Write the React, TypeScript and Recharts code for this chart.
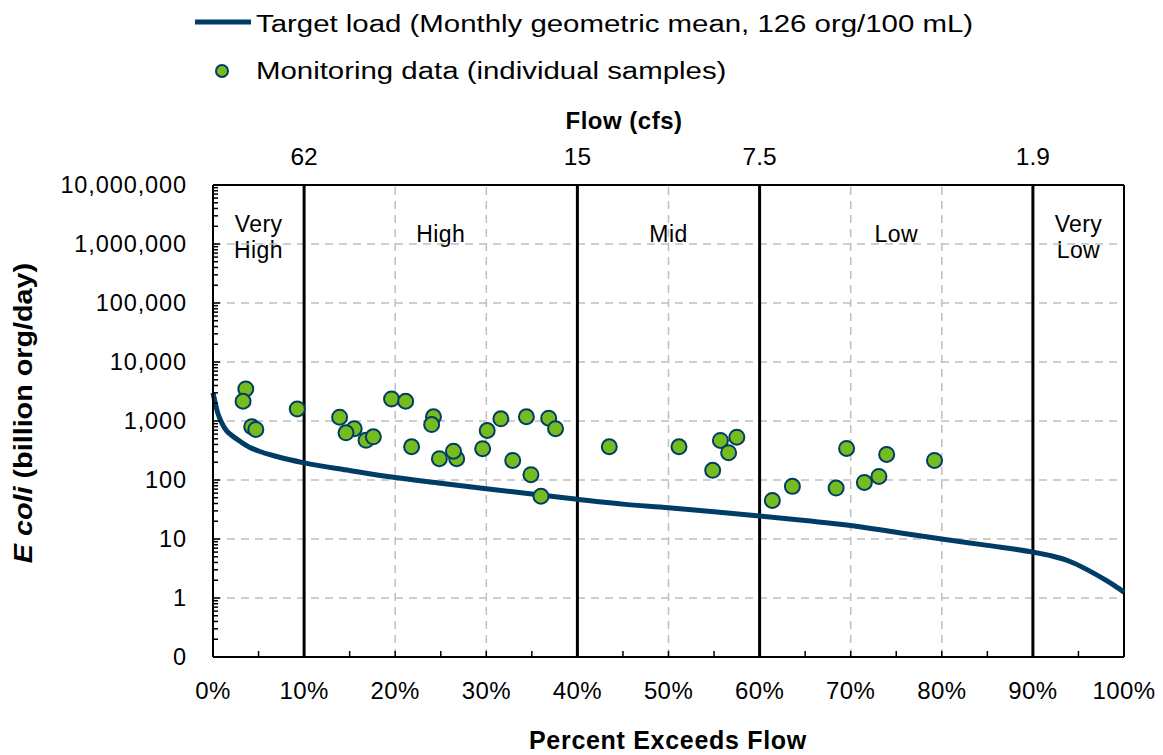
import React from "react";
import {
  ComposedChart, Line, Scatter, XAxis, YAxis, ReferenceLine, ReferenceArea
} from "recharts";

// Load duration curve (percent of days flow is exceeded vs. load)
const curvePct = [0, 0.5, 1, 1.5, 2, 3, 4, 5, 7, 10, 15, 20, 25, 30, 35, 40, 45, 50, 55, 60, 65, 70, 75, 80, 85, 90, 92, 94, 96, 98, 99, 100];
const curveLoad = [3000, 1400, 900, 680, 580, 450, 360, 310, 250, 195, 145, 110, 88, 71, 58, 47, 39, 34, 29, 24.5, 20.5, 17, 13, 10, 7.8, 6, 5.2, 4.2, 3, 2, 1.6, 1.25];

// Individual monitoring samples
const samplePct = [
  3.6, 3.3, 4.25, 4.7, 9.25, 13.9, 15.5, 14.6, 16.8, 17.6, 19.6, 21.15, 21.8, 24.2, 24.0, 24.85,
  26.75, 26.4, 29.6, 30.1, 31.6, 32.9, 34.4, 34.9, 36.0, 36.85, 37.6, 43.5, 51.15, 55.7, 57.5,
  56.6, 54.85, 61.4, 63.6, 68.4, 69.55, 71.5, 73.1, 73.95, 79.2,
];
const sampleLoad = [
  3500, 2160, 800, 720, 1600, 1160, 740, 630, 470, 540, 2370, 2160, 366, 1180, 870, 230,
  230, 308, 339, 690, 1090, 215, 1180, 123, 53, 1115, 740, 366, 366, 468, 532,
  290, 146, 45, 78, 73, 343, 91, 115, 271, 215,
];

// Flow zones and their boundaries
const zoneEdges = [10, 40, 60, 90];
const flowLabels = ["62", "15", "7.5", "1.9"];
const zones = [
  { from: 0, to: 10, text: ["Very", "High"] },
  { from: 10, to: 40, text: ["High"] },
  { from: 40, to: 60, text: ["Mid"] },
  { from: 60, to: 90, text: ["Low"] },
  { from: 90, to: 100, text: ["Very", "Low"] },
];

const yMajorTicks = [0.1, 1, 10, 100, 1000, 10000, 100000, 1000000, 10000000];
const yMinorTicks = yMajorTicks.slice(0, -1).flatMap(d => [2, 3, 4, 5, 6, 7, 8, 9].map(k => k * d));
const xTicks = [0, 5, 10, 15, 20, 25, 30, 35, 40, 45, 50, 55, 60, 65, 70, 75, 80, 85, 90, 95, 100];
const xGrid = [10, 20, 30, 40, 50, 60, 70, 80, 90];

const curveData = curvePct.map((pct, i) => ({ pct, load: curveLoad[i] }));
const sampleData = samplePct.map((pct, i) => ({ pct, load: sampleLoad[i] }));

const NAVY = "#003D66";
const GREEN = "#77BC1F";
const GRID = "#BFBFBF";
const FONT = "'Liberation Sans', Arial, sans-serif";

const YTick = (props: any) => {
  const { x, y, payload } = props;
  const major = yMajorTicks.includes(payload.value);
  const label = payload.value < 1 ? "0" : payload.value.toLocaleString("en-US");
  return (
    <g>
      <line x1={x} x2={x + (major ? 7 : 5)} y1={y} y2={y} stroke="#000" strokeWidth={1.5} />
      {major && (
        <text x={x - 26} y={y + 8} textAnchor="end" fontSize={23.5} letterSpacing={0.9} fontFamily={FONT} fill="#000">
          {label}
        </text>
      )}
    </g>
  );
};

const XTick = (props: any) => {
  const { x, y, payload } = props;
  const showLabel = payload.value % 10 === 0;
  return (
    <g>
      <line x1={x} x2={x} y1={y} y2={y - 6} stroke="#000" strokeWidth={1.5} />
      {showLabel && (
        <text x={x} y={y + 42} textAnchor="middle" fontSize={24} letterSpacing={0.4} fontFamily={FONT} fill="#000">
          {payload.value}%
        </text>
      )}
    </g>
  );
};

// flow value printed above each zone boundary
const FlowLabel = ({ viewBox, text }: any) => (
  <text x={viewBox.x} y={viewBox.y - 20} textAnchor="middle" fontSize={24.5} fontFamily={FONT} fill="#000">
    {text}
  </text>
);

const ZoneLabel = ({ viewBox, lines }: any) => {
  const cx = viewBox.x + viewBox.width / 2;
  const top = viewBox.y + (lines.length > 1 ? 47 : 57);
  return (
    <text textAnchor="middle" fontSize={23} letterSpacing={0.4} fontFamily={FONT} fill="#000">
      {lines.map((t: string, i: number) => (
        <tspan key={t} x={cx} y={top + i * 26}>{t}</tspan>
      ))}
    </text>
  );
};

const Dot = (props: any) => (
  <circle cx={props.cx} cy={props.cy} r={7.5} fill={GREEN} stroke={NAVY} strokeWidth={2} />
);

export default function App() {
  return (
    <div style={{ position: "absolute", left: 0, top: 0, width: 1163, height: 755, background: "#fff" }}>
      <ComposedChart width={1163} height={755} margin={{ top: 145, right: 39, bottom: 38, left: 93 }}>
        <XAxis
          dataKey="pct" type="number" domain={[0, 100]} ticks={xTicks} interval={0}
          height={60} tickSize={0} tickMargin={0} tickLine={false}
          axisLine={{ stroke: "#000", strokeWidth: 2 }} tick={<XTick />}
        />
        <XAxis
          xAxisId="top" orientation="top" type="number" domain={[0, 100]} ticks={[]}
          height={40} tickLine={false} tick={false}
          axisLine={{ stroke: "#000", strokeWidth: 2 }}
        />
        <YAxis
          dataKey="load" type="number" scale="log" domain={[0.1, 10000000]} allowDataOverflow
          ticks={[...yMajorTicks, ...yMinorTicks]} interval={0} width={120}
          tickSize={0} tickMargin={0} tickLine={false}
          axisLine={{ stroke: "#000", strokeWidth: 2 }} tick={<YTick />}
        />

        {yMajorTicks.slice(1, -1).map(v => (
          <ReferenceLine key={"h" + v} y={v} stroke={GRID} strokeWidth={1.5} strokeDasharray="8 6" />
        ))}
        {xGrid.map(v => (
          <ReferenceLine key={"v" + v} x={v} stroke={GRID} strokeWidth={1.5} strokeDasharray="8 6" />
        ))}
        {zoneEdges.map((v, i) => (
          <ReferenceLine
            key={"z" + v} x={v} stroke="#000" strokeWidth={3}
            label={<FlowLabel text={flowLabels[i]} />}
          />
        ))}
        <ReferenceLine x={100} stroke="#000" strokeWidth={2} />

        {zones.map(z => (
          <ReferenceArea
            key={z.from} x1={z.from} x2={z.to} y1={1000000} y2={10000000}
            fill="none" stroke="none" label={<ZoneLabel lines={z.text} />}
          />
        ))}

        <Line
          data={curveData} dataKey="load" type="monotone" stroke={NAVY} strokeWidth={5}
          dot={false} activeDot={false} isAnimationActive={false}
        />
        <Scatter data={sampleData} dataKey="load" shape={<Dot />} isAnimationActive={false} />
      </ComposedChart>

      {/* legend, axis titles */}
      <svg width={1163} height={755} style={{ position: "absolute", left: 0, top: 0, pointerEvents: "none" }}>
        <line x1={195} x2={251} y1={22} y2={22} stroke={NAVY} strokeWidth={5} />
        <text transform="translate(256, 32) scale(1.2, 1)" fontSize={24.5} fontFamily={FONT} fill="#000">
          Target load (Monthly geometric mean, 126 org/100 mL)
        </text>
        <circle cx={222} cy={71} r={6} fill={GREEN} stroke={NAVY} strokeWidth={2} />
        <text transform="translate(256, 79) scale(1.2, 1)" fontSize={24.5} fontFamily={FONT} fill="#000">
          Monitoring data (individual samples)
        </text>
        <text x={624} y={129} textAnchor="middle" fontSize={24} fontWeight="bold" letterSpacing={0.5} fontFamily={FONT} fill="#000">
          Flow (cfs)
        </text>
        <text x={668} y={749} textAnchor="middle" fontSize={25} fontWeight="bold" letterSpacing={0.7} fontFamily={FONT} fill="#000">
          Percent Exceeds Flow
        </text>
        <text
          transform="translate(32, 413) rotate(-90) scale(1.15, 1)" textAnchor="middle" fontSize={25}
          fontWeight="bold" fontFamily={FONT} fill="#000"
        >
          <tspan fontStyle="italic">E coli</tspan> (billion org/day)
        </text>
      </svg>
    </div>
  );
}
